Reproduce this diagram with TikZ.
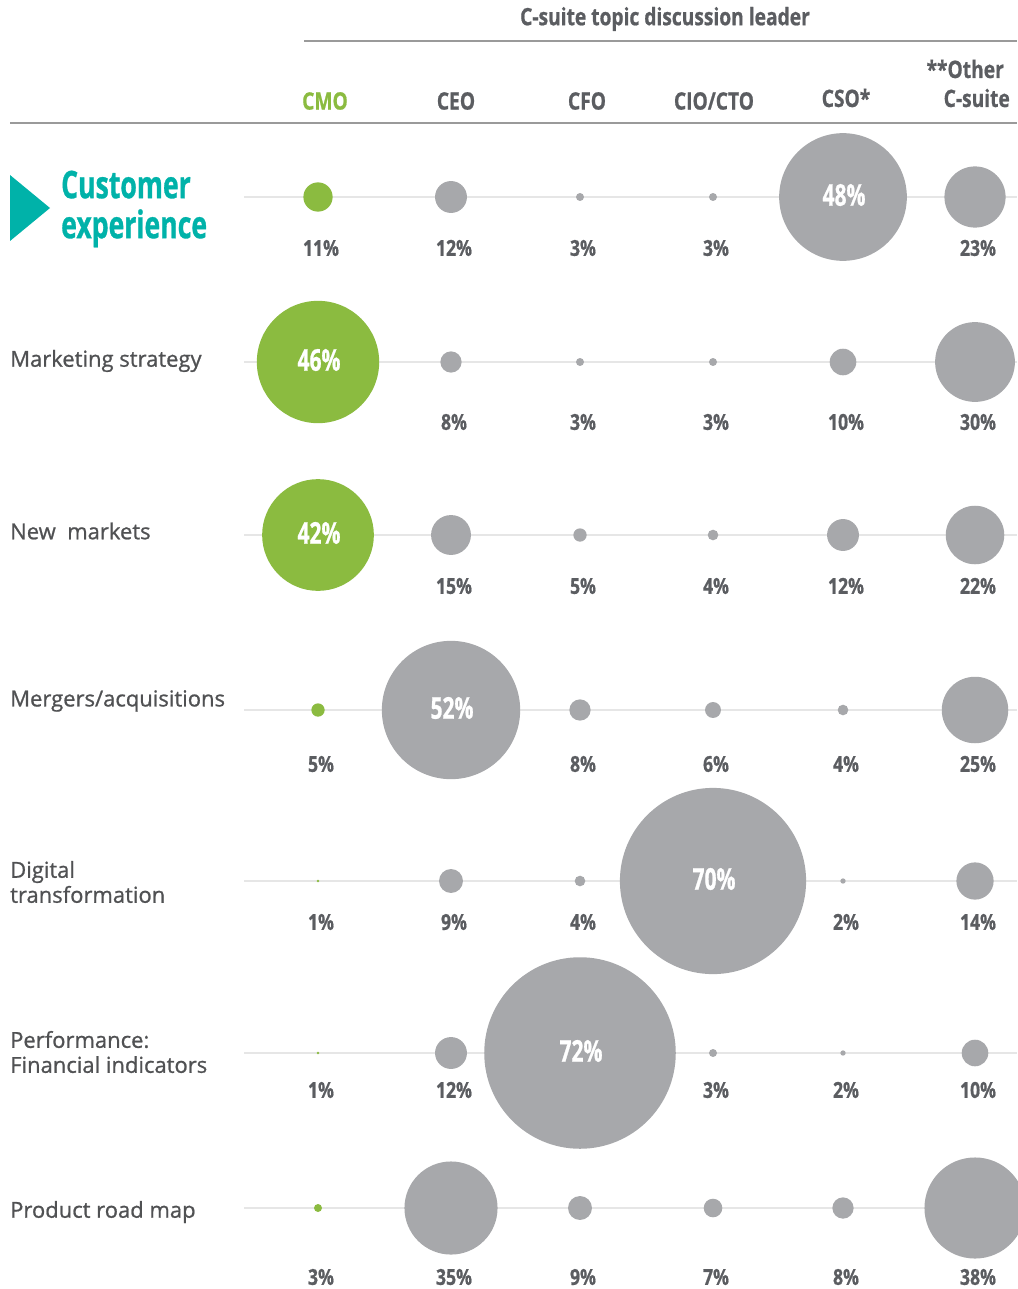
\documentclass[tikz,border=0pt]{standalone}
\usepackage{fontspec}
\setmainfont{Open Sans}
\newfontfamily\cond{Open Sans}[FakeStretch=0.8,FakeBold=0.8]
\newfontfamily\condc{Open Sans}[FakeStretch=0.7,FakeBold=0.8]
\newfontfamily\semi{Open Sans}[FakeBold=0.9]
\usetikzlibrary{positioning}
\definecolor{cgreen}{HTML}{8BBB40}
\definecolor{cgray}{HTML}{A7A8AB}
\definecolor{ctext}{HTML}{5B5D61}
\definecolor{crow}{HTML}{505153}
\definecolor{cteal}{HTML}{00B2A9}
\definecolor{cline}{HTML}{E6E6E6}
\definecolor{crule}{HTML}{9A9A9A}
\tikzset{
  bubble/.style={circle,inner sep=0pt,draw=none},
  pct/.style={font=\cond\bfseries\fontsize{22}{24}\selectfont,text=ctext,inner sep=0pt},
  inpct/.style={font=\condc\bfseries\fontsize{30}{32}\selectfont,text=white,inner sep=0pt},
  colhead/.style={font=\cond\bfseries\fontsize{24}{28}\selectfont,text=ctext,inner sep=0pt},
  rowlab/.style={font=\semi\fontsize{22}{25}\selectfont,text=crow,inner sep=0pt,anchor=west,align=left},
  rowline/.style={draw=cline,line width=2pt},
  rulel/.style={draw=crule,line width=2pt}
}
% #1 name, #2 x, #3 y, #4 percent, #5 colour, #6 label y
\newcommand\bubl[6]{%
  \node[bubble,fill=#5,minimum size={2.66*#4pt}] (#1) at (#2,#3) {};
  \node[pct] (#1l) at (#2+3,#6) {#4\%};}
\newcommand\bubi[5]{%
  \node[bubble,fill=#5,minimum size={2.66*#4pt}] (#1) at (#2,#3) {};
  \node[inpct] (#1l) at (#2+1,#3-2) {#4\%};}
\begin{document}
\begin{tikzpicture}[x=1pt,y=-1pt]
\useasboundingbox (0,0) rectangle (1017,1289);
% header
\node[colhead] (title) at (665,19) {C-suite topic discussion leader};
\coordinate (t1) at (304,41); \coordinate (t2) at (1017,41);
\draw[rulel] (t1) -- (t2);
\node[colhead,text=cgreen] (hcmo) at (325,101) {CMO};
\node[colhead] (hceo) at (456,101) {CEO};
\node[colhead] (hcfo) at (587,101) {CFO};
\node[colhead] (hcio) at (714,101) {CIO/CTO};
\node[colhead] (hcso) at (846,98) {CSO*};
\node[colhead,anchor=east] (hoth1) at (1004,69) {**Other};
\node[colhead,anchor=east] (hoth2) at (1010,98) {C-suite};
\coordinate (h1) at (10,123); \coordinate (h2) at (1017,123);
\draw[rulel] (h1) -- (h2);
% row lines
\foreach \y [count=\i] in {197,362,535,710,881,1053,1208}{
  \coordinate (la\i) at (244,\y); \coordinate (lb\i) at (1017,\y);
  \draw[rowline] (la\i) -- (lb\i);
}
% row labels
\fill[cteal] (10,175) -- (50,208) -- (10,241) -- cycle;
\node[anchor=west,inner sep=0pt,align=left,text=cteal,font=\condc\bfseries\fontsize{38}{40}\selectfont] (rl1) at (61,209) {Customer\\experience};
\node[rowlab] (rl2) at (10,361) {Marketing strategy};
\node[rowlab] (rl3) at (10,531) {New\ \ markets};
\node[rowlab] (rl4) at (10,701) {Mergers/acquisitions};
\node[rowlab] (rl5) at (10,882) {Digital\\transformation};
\node[rowlab] (rl6) at (10,1052) {Performance:\\Financial indicators};
\node[rowlab] (rl7) at (10,1212) {Product road map};
% row 1
\bubl{a1}{318}{197}{11}{cgreen}{248}
\bubl{a2}{451}{197}{12}{cgray}{248}
\bubl{a3}{580}{197}{3}{cgray}{248}
\bubl{a4}{713}{197}{3}{cgray}{248}
\bubi{a5}{843}{197}{48}{cgray}
\bubl{a6}{975}{197}{23}{cgray}{248}
% row 2
\bubi{b1}{318}{362}{46}{cgreen}
\bubl{b2}{451}{362}{8}{cgray}{422}
\bubl{b3}{580}{362}{3}{cgray}{422}
\bubl{b4}{713}{362}{3}{cgray}{422}
\bubl{b5}{843}{362}{10}{cgray}{422}
\bubl{b6}{975}{362}{30}{cgray}{422}
% row 3
\bubi{c1}{318}{535}{42}{cgreen}
\bubl{c2}{451}{535}{15}{cgray}{586}
\bubl{c3}{580}{535}{5}{cgray}{586}
\bubl{c4}{713}{535}{4}{cgray}{586}
\bubl{c5}{843}{535}{12}{cgray}{586}
\bubl{c6}{975}{535}{22}{cgray}{586}
% row 4
\bubl{d1}{318}{710}{5}{cgreen}{764}
\bubi{d2}{451}{710}{52}{cgray}
\bubl{d3}{580}{710}{8}{cgray}{764}
\bubl{d4}{713}{710}{6}{cgray}{764}
\bubl{d5}{843}{710}{4}{cgray}{764}
\bubl{d6}{975}{710}{25}{cgray}{764}
% row 5
\bubl{e1}{318}{881}{1}{cgreen}{922}
\bubl{e2}{451}{881}{9}{cgray}{922}
\bubl{e3}{580}{881}{4}{cgray}{922}
\bubi{e4}{713}{881}{70}{cgray}
\bubl{e5}{843}{881}{2}{cgray}{922}
\bubl{e6}{975}{881}{14}{cgray}{922}
% row 6
\bubl{f1}{318}{1053}{1}{cgreen}{1090}
\bubl{f2}{451}{1053}{12}{cgray}{1090}
\bubi{f3}{580}{1053}{72}{cgray}
\bubl{f4}{713}{1053}{3}{cgray}{1090}
\bubl{f5}{843}{1053}{2}{cgray}{1090}
\bubl{f6}{975}{1053}{10}{cgray}{1090}
% row 7
\bubl{g1}{318}{1208}{3}{cgreen}{1277}
\bubl{g2}{451}{1208}{35}{cgray}{1277}
\bubl{g3}{580}{1208}{9}{cgray}{1277}
\bubl{g4}{713}{1208}{7}{cgray}{1277}
\bubl{g5}{843}{1208}{8}{cgray}{1277}
\bubl{g6}{975}{1208}{38}{cgray}{1277}
\end{tikzpicture}
\end{document}
